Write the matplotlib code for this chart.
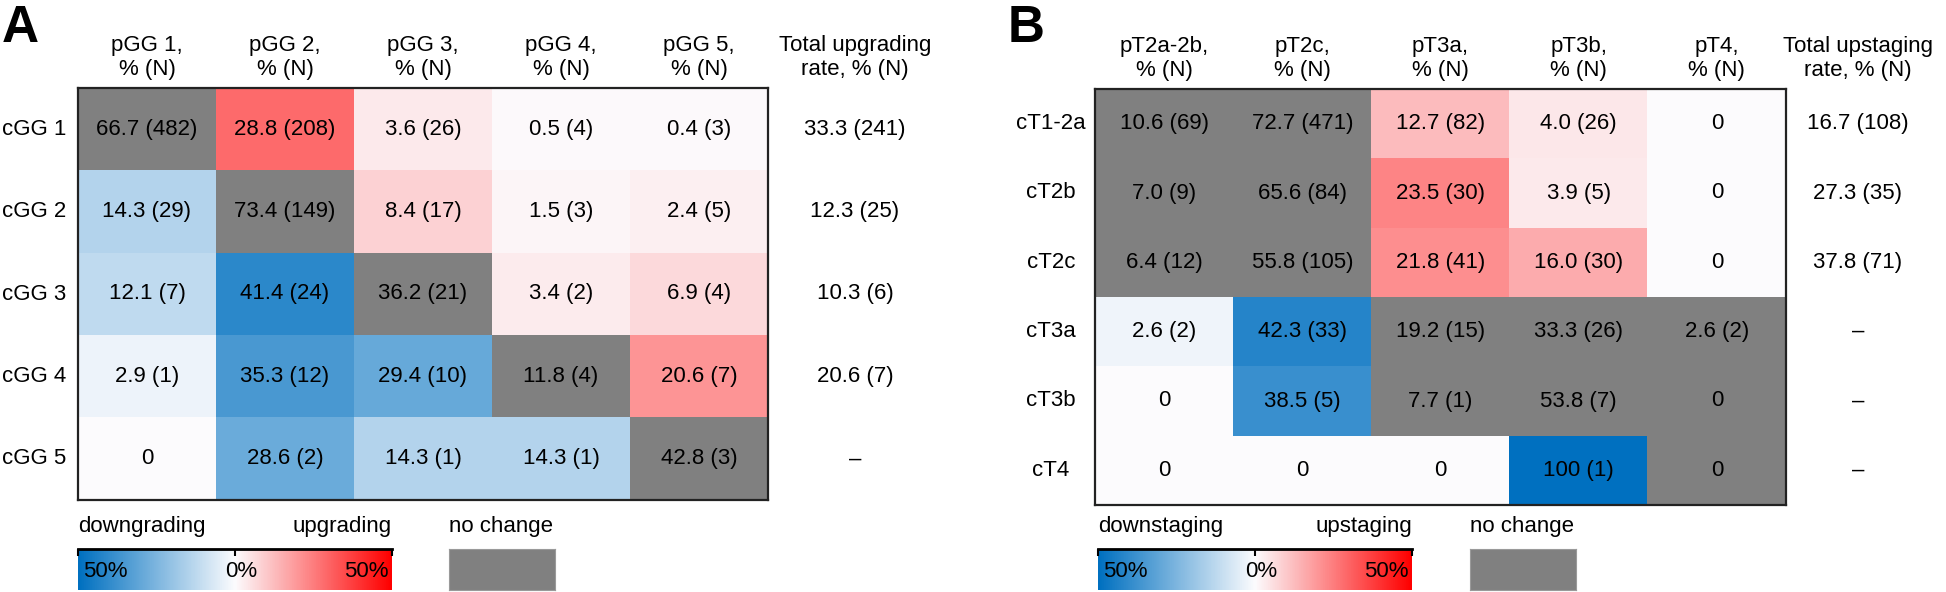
import numpy as np
import matplotlib
matplotlib.use("Agg")
import matplotlib.pyplot as plt
from matplotlib.colors import LinearSegmentedColormap, Normalize

plt.rcParams['font.family'] = ['Liberation Sans', 'DejaVu Sans']
plt.rcParams['font.size'] = 16

# ---- panel A data: clinical vs pathological grade group ----
a_rows = ['cGG 1', 'cGG 2', 'cGG 3', 'cGG 4', 'cGG 5']
a_cols = ['pGG 1,\n% (N)', 'pGG 2,\n% (N)', 'pGG 3,\n% (N)', 'pGG 4,\n% (N)', 'pGG 5,\n% (N)']
a_pct = [[66.7, 28.8, 3.6, 0.5, 0.4],
         [14.3, 73.4, 8.4, 1.5, 2.4],
         [12.1, 41.4, 36.2, 3.4, 6.9],
         [2.9, 35.3, 29.4, 11.8, 20.6],
         [0, 28.6, 14.3, 14.3, 42.8]]
a_n = [[482, 208, 26, 4, 3],
       [29, 149, 17, 3, 5],
       [7, 24, 21, 2, 4],
       [1, 12, 10, 4, 7],
       [0, 2, 1, 1, 3]]
# -1 = downgrading, +1 = upgrading, 0 = no change
a_dir = [[0, 1, 1, 1, 1],
         [-1, 0, 1, 1, 1],
         [-1, -1, 0, 1, 1],
         [-1, -1, -1, 0, 1],
         [-1, -1, -1, -1, 0]]
a_total_title = 'Total upgrading\nrate, % (N)'
a_total = ['33.3 (241)', '12.3 (25)', '10.3 (6)', '20.6 (7)', '\u2013']

# ---- panel B data: clinical vs pathological T stage ----
b_rows = ['cT1-2a', 'cT2b', 'cT2c', 'cT3a', 'cT3b', 'cT4']
b_cols = ['pT2a-2b,\n% (N)', 'pT2c,\n% (N)', 'pT3a,\n% (N)', 'pT3b,\n% (N)', 'pT4,\n% (N)']
b_pct = [[10.6, 72.7, 12.7, 4.0, 0],
         [7.0, 65.6, 23.5, 3.9, 0],
         [6.4, 55.8, 21.8, 16.0, 0],
         [2.6, 42.3, 19.2, 33.3, 2.6],
         [0, 38.5, 7.7, 53.8, 0],
         [0, 0, 0, 100, 0]]
b_n = [[69, 471, 82, 26, 0],
       [9, 84, 30, 5, 0],
       [12, 105, 41, 30, 0],
       [2, 33, 15, 26, 2],
       [0, 5, 1, 7, 0],
       [0, 0, 0, 1, 0]]
b_dir = [[0, 0, 1, 1, 1],
         [0, 0, 1, 1, 1],
         [0, 0, 1, 1, 1],
         [-1, -1, 0, 0, 0],
         [-1, -1, 0, 0, 0],
         [-1, -1, -1, -1, 0]]
b_total_title = 'Total upstaging\nrate, % (N)'
b_total = ['16.7 (108)', '27.3 (35)', '37.8 (71)', '\u2013', '\u2013', '\u2013']

cmap = LinearSegmentedColormap.from_list('updown', ['#0070C0', '#FCFCFE', '#FF0000'])
norm = Normalize(-50, 50, clip=True)
GRAY = '#808080'

W, H = 1946, 592
fig = plt.figure(figsize=(W / 100, H / 100), dpi=100)


def px_axes(x0, y0, x1, y1):
    # pixel box (top-left origin) -> figure axes
    return fig.add_axes([x0 / W, 1 - y1 / H, (x1 - x0) / W, (y1 - y0) / H])


def fmt(p, n):
    if n == 0:
        return '0'
    s = '%g' % p if p >= 100 else '%.1f' % p
    return '%s (%d)' % (s, n)


def heat(box, rows, cols, pct, n, dirs, total_title, totals, total_x):
    ax = px_axes(*box)
    pct = np.array(pct, dtype=float)
    dirs = np.array(dirs)
    rgba = cmap(norm(pct * dirs))
    rgba[dirs == 0] = matplotlib.colors.to_rgba(GRAY)
    nr, nc = pct.shape
    ax.imshow(rgba, aspect='auto', interpolation='nearest',
              extent=(-0.5, nc - 0.5, nr - 0.5, -0.5))
    ax.set_xlim(-0.5, nc - 0.5)
    ax.set_ylim(nr - 0.5, -0.5)
    ax.set_xticks([])
    ax.set_yticks([])
    for s in ax.spines.values():
        s.set_linewidth(1.6)
        s.set_color('#222222')
    for i in range(nr):
        for j in range(nc):
            ax.text(j, i, fmt(pct[i, j], n[i][j]), ha='center', va='center')
        ax.text(-0.064, i, rows[i], ha='center', va='center',
                transform=ax.get_yaxis_transform())
        ax.text(total_x, i, totals[i], ha='center', va='center', clip_on=False)
    for j in range(nc):
        ax.annotate(cols[j], xy=(j, 1), xycoords=('data', 'axes fraction'),
                    xytext=(0, 22), textcoords='offset points',
                    ha='center', va='center', linespacing=1.15)
    ax.annotate(total_title, xy=(total_x, 1), xycoords=('data', 'axes fraction'),
                xytext=(0, 22), textcoords='offset points',
                ha='center', va='center', linespacing=1.15, annotation_clip=False)
    return ax


def legend(x0, gx0, left_lab, right_lab):
    cax = px_axes(x0, 549, x0 + 314, 590)
    grad = np.linspace(-50, 50, 400)[None, :]
    cax.imshow(grad, cmap=cmap, norm=norm, aspect='auto', extent=(-50, 50, 0, 1))
    cax.set_xlim(-50, 50)
    cax.set_ylim(0, 1)
    for k in ['left', 'right', 'bottom']:
        cax.spines[k].set_visible(False)
    cax.spines['top'].set_linewidth(2)
    cax.set_yticks([])
    cax.set_xticks([-50, 0, 50])
    cax.tick_params(axis='x', top=True, bottom=False, labeltop=False, labelbottom=False,
                    direction='in', length=5, width=1.5)
    cax.text(-48.5, 0.45, '50%', ha='left', va='center')
    cax.text(2, 0.45, '0%', ha='center', va='center')
    cax.text(49, 0.45, '50%', ha='right', va='center')
    cax.annotate(left_lab, xy=(0, 1), xycoords='axes fraction', xytext=(0, 16),
                 textcoords='offset points', ha='left', va='center')
    cax.annotate(right_lab, xy=(1, 1), xycoords='axes fraction', xytext=(0, 16),
                 textcoords='offset points', ha='right', va='center')
    gax = px_axes(gx0, 549, gx0 + 106, 590)
    gax.set_facecolor(GRAY)
    gax.set_xticks([])
    gax.set_yticks([])
    for s in gax.spines.values():
        s.set_color('#9a9a9a')
        s.set_linewidth(0.8)
    gax.annotate('no change', xy=(0, 1), xycoords='axes fraction', xytext=(0, 16),
                 textcoords='offset points', ha='left', va='center')


heat((78, 88, 768, 500), a_rows, a_cols, a_pct, a_n, a_dir, a_total_title, a_total, 5.13)
heat((1095, 89, 1786, 505), b_rows, b_cols, b_pct, b_n, b_dir, b_total_title, b_total, 5.02)
legend(78, 449, 'downgrading', 'upgrading')
legend(1098, 1470, 'downstaging', 'upstaging')

fig.text(2 / W, 1 - 42 / H, 'A', fontsize=37, fontweight='bold', va='baseline')
fig.text(1008 / W, 1 - 42 / H, 'B', fontsize=37, fontweight='bold', va='baseline')

fig.savefig('out.png', dpi=100)
